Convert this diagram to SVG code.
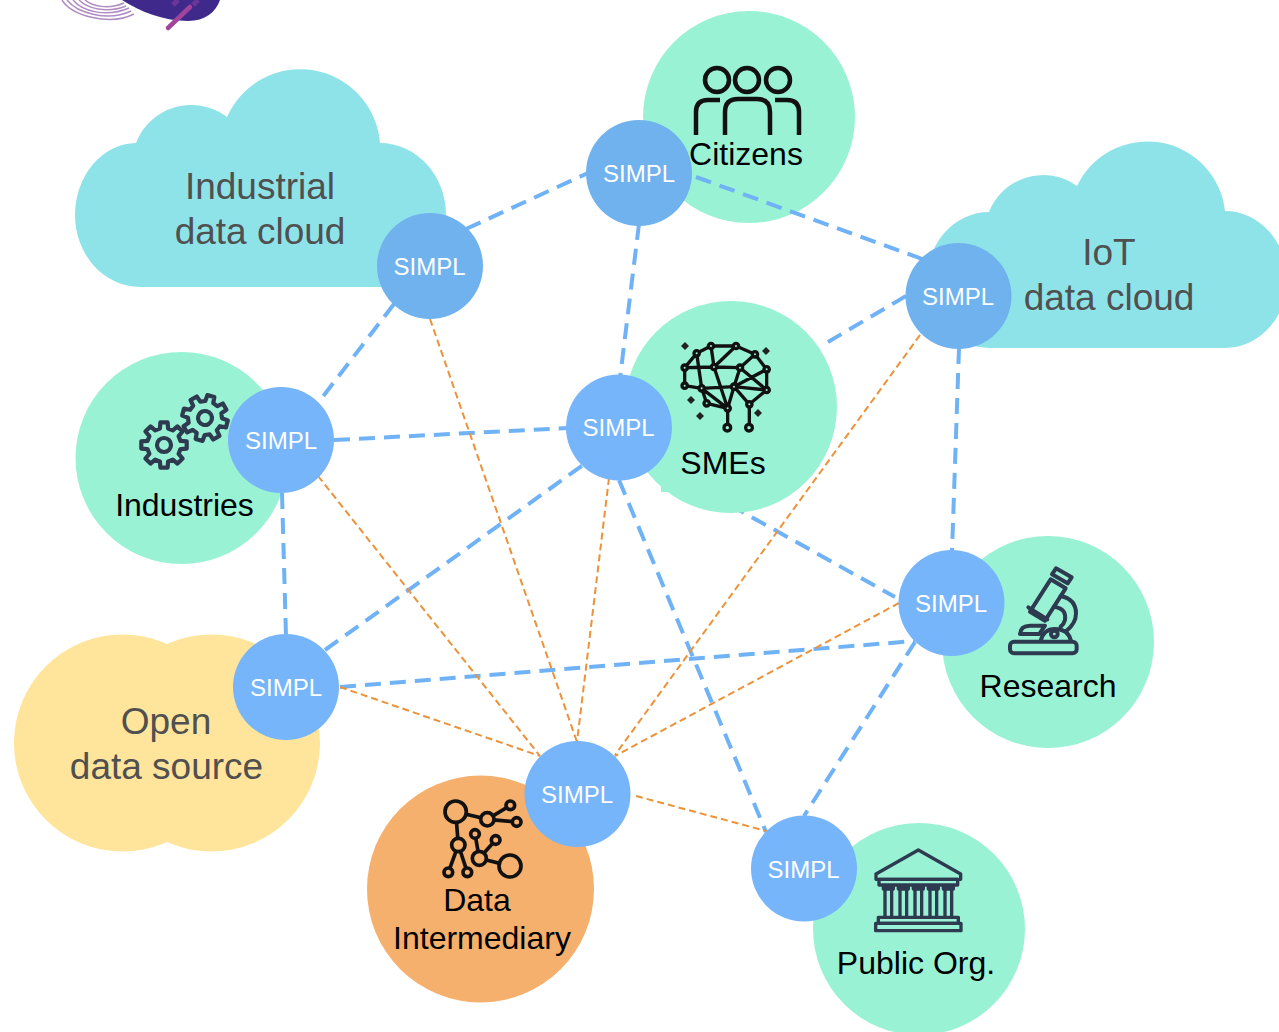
<svg xmlns="http://www.w3.org/2000/svg" width="1279" height="1032" viewBox="0 0 1279 1032">
<style>
text{font-family:"Liberation Sans",Arial,sans-serif;text-anchor:middle}
.green{fill:#9AF2D5}
.cloud{fill:#8EE3E9}
.yellow{fill:#FFE49B}
.simpl{fill:#70B2EE}
.simpl2{fill:#76B5FA}
.sl{font-size:24px;fill:#fff}
.big{font-size:37px;fill:#505050}
.lab{font-size:32px;fill:#000}
.blue{stroke:#70B2F6;stroke-width:4;stroke-dasharray:16 9;fill:none}
.orange{stroke:#EC9238;stroke-width:2;stroke-dasharray:7 4;fill:none}
.ink{fill:none;stroke:#111;stroke-linecap:round;stroke-linejoin:round}
.slate{fill:none;stroke:#2E3A4F;stroke-linecap:round;stroke-linejoin:round}
</style>
<defs>
<g id="gear">
<path class="slate" stroke-width="4.2" d="M16.500-4.100L22.700-3.600V3.600L16.500 4.100L14.600 8.800L18.600 13.500L13.500 18.600L8.800 14.600L4.100 16.500L3.600 22.700H-3.600L-4.100 16.500L-8.800 14.600L-13.500 18.600L-18.600 13.500L-14.600 8.800L-16.500 4.100L-22.700 3.600V-3.600L-16.500-4.100L-14.600-8.800L-18.600-13.500L-13.500-18.600L-8.800-14.600L-4.100-16.500L-3.600-22.700H3.600L4.100-16.500L8.800-14.600L13.500-18.600L18.600-13.500L14.600-8.800Z"/>
<circle class="slate" stroke-width="4.200" r="7"/>
</g>
</defs>
<rect width="1279" height="1032" fill="#fff"/>
<g id="logo">
<g fill="none" stroke="#B08CC4" stroke-width="1.500">
<path d="M62 0C72 16 110 26 134 14"/>
<path d="M67 0C77 13 108 22 131 11"/>
<path d="M73 0C82 11 106 18 129 8"/>
<path d="M79 0C87 8 106 14 126 6"/>
<path d="M85 0C92 6 108 10 124 3"/>
</g>
<path d="M122 0H220C216 12 205 21 188 21C165 21 140 12 122 0Z" fill="#3F2A8C"/>
<path d="M168 28L190 7" stroke="#A3449C" stroke-width="4.500" stroke-linecap="round"/>
<path d="M173 5L178 0M193 5L198 0" stroke="#6E3598" stroke-width="5"/>
</g>
<g id="industrial-cloud">
<path class="cloud" d="M140 287A65 72 0 0 1 75 215A62 72 0 0 1 136 143A59 59 0 0 1 227 117A80 80 0 0 1 380 143A66 72 0 0 1 446 215A66 72 0 0 1 380 287Z"/>
<text class="big" x="260" y="199">Industrial</text>
<text class="big" x="260" y="244">data cloud</text>
</g>
<g id="iot-cloud">
<path class="cloud" d="M990 348A63 68 0 0 1 927 280A62 68 0 0 1 989 212A58 58 0 0 1 1077 186A78 78 0 0 1 1225 211A62 68.500 0 0 1 1287 280A62 68 0 0 1 1225 348Z"/>
<text class="big" x="1109" y="265">IoT</text>
<text class="big" x="1109" y="310">data cloud</text>
</g>
<g id="citizens">
<circle class="green" cx="749" cy="117" r="106"/>
<g class="ink" stroke-width="4.500">
<circle cx="717" cy="80" r="12"/><circle cx="747" cy="80" r="12"/><circle cx="778" cy="80" r="12"/>
<path stroke-linecap="butt" d="M696 135V112Q696 100 708 100H720M725 135V112Q725 99 738 99H757Q770 99 770 112V135M775 100H787Q799 100 799 112V135"/>
</g>
<text class="lab" x="746" y="165">Citizens</text>
</g>
<g id="industries">
<circle class="green" cx="181.500" cy="458" r="106"/>
<use href="#gear" x="164" y="445"/>
<use href="#gear" transform="translate(205 418) rotate(15)"/>
<text class="lab" x="184.500" y="516">Industries</text>
</g>
<g id="research">
<circle class="green" cx="1048" cy="642" r="106"/>
<g class="slate" stroke-width="12" transform="translate(1000 560) scale(.3333)">
<rect x="30" y="245" width="200" height="35" rx="12"/>
<path d="M122 243Q130 207 165 207Q205 207 213 243"/>
<circle cx="163" cy="222" r="10"/>
<path d="M60 222Q62 197 90 197H135L118 222Z"/>
<path d="M152 58L197 85L135 182L90 155Z"/>
<path d="M85 142L142 178"/>
<path d="M168 25L215 52L203 70L156 43Z"/>
<path d="M182 108Q228 118 228 160Q228 190 200 212M162 140Q200 145 195 180Q192 192 182 200"/>
</g>
<text class="lab" x="1048" y="697">Research</text>
</g>
<g id="public-org">
<circle class="green" cx="919" cy="929" r="106"/>
<g class="slate" stroke-width="10" transform="translate(865 840) scale(.3333)">
<path d="M33 102L160 30L287 102V118H33Z"/>
<rect x="42" y="118" width="236" height="17"/>
<path d="M55 137H85V147H55ZM100 137H130V147H100ZM145 137H175V147H145ZM190 137H220V147H190ZM235 137H265V147H235Z"/>
<path d="M60 147V232M80 147V232M105 147V232M125 147V232M150 147V232M170 147V232M195 147V232M215 147V232M240 147V232M260 147V232"/>
<rect x="40" y="232" width="240" height="18"/>
<rect x="32" y="250" width="256" height="22"/>
</g>
<text class="lab" x="916" y="974">Public Org.</text>
</g>
<g id="data-intermediary">
<circle cx="480.500" cy="889" r="113.500" fill="#F4B06C"/>
<g transform="translate(435 790) scale(.3333)" fill="#F4B06C" stroke="#111" stroke-width="11">
<path fill="none" d="M62 65L157 88L226 46M157 88L245 96M62 65L70 165L40 247M70 165L97 247M120 132L133 205L182 150M133 205L225 228"/>
<circle cx="62" cy="65" r="32"/><circle cx="157" cy="88" r="20"/><circle cx="226" cy="46" r="13"/><circle cx="245" cy="96" r="13"/><circle cx="70" cy="165" r="20"/><circle cx="40" cy="247" r="13"/><circle cx="97" cy="247" r="13"/><circle cx="120" cy="132" r="13"/><circle cx="182" cy="150" r="13"/><circle cx="133" cy="205" r="21"/><circle cx="225" cy="228" r="33"/>
</g>
<text class="lab" x="477" y="911">Data</text>
<text class="lab" x="482" y="949">Intermediary</text>
</g>
<g id="open-data">
<circle class="yellow" cx="122.500" cy="743" r="108.500"/>
<circle class="yellow" cx="211.500" cy="743" r="108.500"/>
<text class="big" x="166" y="734">Open</text>
<text class="big" x="166.500" y="779">data source</text>
</g>
<g id="connectors">
<path class="blue" d="M466 229L588 173"/>
<path class="blue" d="M696 177L925 260"/>
<path class="blue" d="M639 224L620 378"/>
<path class="blue" d="M394 304L318 403"/>
<path class="blue" d="M334 440L568 428"/>
<path class="blue" d="M282 493L286 636"/>
<path class="blue" d="M325 650L583 465"/>
<path class="blue" d="M906 296L828 342"/>
<path class="blue" d="M730 505L895 597"/>
<path class="blue" d="M959 348L952 552"/>
<path class="blue" d="M340 687L915 641"/>
<path class="blue" d="M619 480L766 832"/>
<path class="blue" d="M915 642L804 816"/>
<path class="orange" d="M430 319L577 742"/>
<path class="orange" d="M318 476L540 756"/>
<path class="orange" d="M609 478L577 742"/>
<path class="orange" d="M340 687L540 756"/>
<path class="orange" d="M920 335L615 755"/>
<path class="orange" d="M899 603L615 756"/>
<path class="orange" d="M636 796L770 832"/>
</g>
<g id="smes">
<circle class="green" cx="731" cy="407" r="106"/>
<rect class="green" x="661" y="480" width="20" height="12"/>
<g class="ink" stroke-width="10" transform="translate(670 335) scale(.3333)">
<path fill="none" d="M123 33H198L255 58L290 103L290 165L238 208V278M123 33L80 55L44 98V152L95 160L110 205L173 220V278M80 55L95 160M44 98L132 96L173 220L95 160M123 33L132 96M198 33L132 96M132 96L210 98L290 165M255 58L210 98L192 155L95 160M290 103L192 155L173 220M192 155L290 165M192 155L238 208"/>
<g fill="#9AF2D5"><circle cx="123" cy="33" r="8"/><circle cx="198" cy="33" r="8"/><circle cx="80" cy="55" r="8"/><circle cx="255" cy="58" r="8"/><circle cx="44" cy="98" r="8"/><circle cx="132" cy="96" r="8"/><circle cx="210" cy="98" r="8"/><circle cx="290" cy="103" r="8"/><circle cx="44" cy="152" r="8"/><circle cx="95" cy="160" r="8"/><circle cx="192" cy="155" r="8"/><circle cx="290" cy="165" r="8"/><circle cx="110" cy="205" r="8"/><circle cx="173" cy="220" r="8"/><circle cx="238" cy="208" r="8"/><circle cx="172" cy="278" r="10"/><circle cx="237" cy="278" r="10"/></g>
</g>
<g fill="#222">
<path d="M685 342l4 4-4 4-4-4zM766 347l4 4-4 4-4-4zM691 396l4 4-4 4-4-4zM700 412l4 4-4 4-4-4zM758 409l4 4-4 4-4-4z"/>
</g>
<text class="lab" x="723" y="474">SMEs</text>
</g>
<g id="simpl-1"><circle class="simpl" cx="639" cy="173" r="53"/><text class="sl" x="639" y="182">SIMPL</text></g>
<g id="simpl-2"><circle class="simpl" cx="430" cy="266" r="53"/><text class="sl" x="429.500" y="275">SIMPL</text></g>
<g id="simpl-3"><circle class="simpl" cx="958.500" cy="296" r="53"/><text class="sl" x="958" y="305">SIMPL</text></g>
<g id="simpl-4"><circle class="simpl2" cx="281" cy="440" r="53"/><text class="sl" x="281" y="449">SIMPL</text></g>
<g id="simpl-5"><circle class="simpl2" cx="619" cy="427.500" r="53"/><text class="sl" x="618.500" y="436">SIMPL</text></g>
<g id="simpl-6"><circle class="simpl2" cx="951.500" cy="603" r="53"/><text class="sl" x="951" y="612">SIMPL</text></g>
<g id="simpl-7"><circle class="simpl2" cx="286" cy="687" r="53"/><text class="sl" x="286" y="696">SIMPL</text></g>
<g id="simpl-8"><circle class="simpl2" cx="577.500" cy="794" r="53"/><text class="sl" x="577" y="803">SIMPL</text></g>
<g id="simpl-9"><circle class="simpl2" cx="804" cy="868.500" r="53"/><text class="sl" x="803.500" y="878">SIMPL</text></g>
</svg>
